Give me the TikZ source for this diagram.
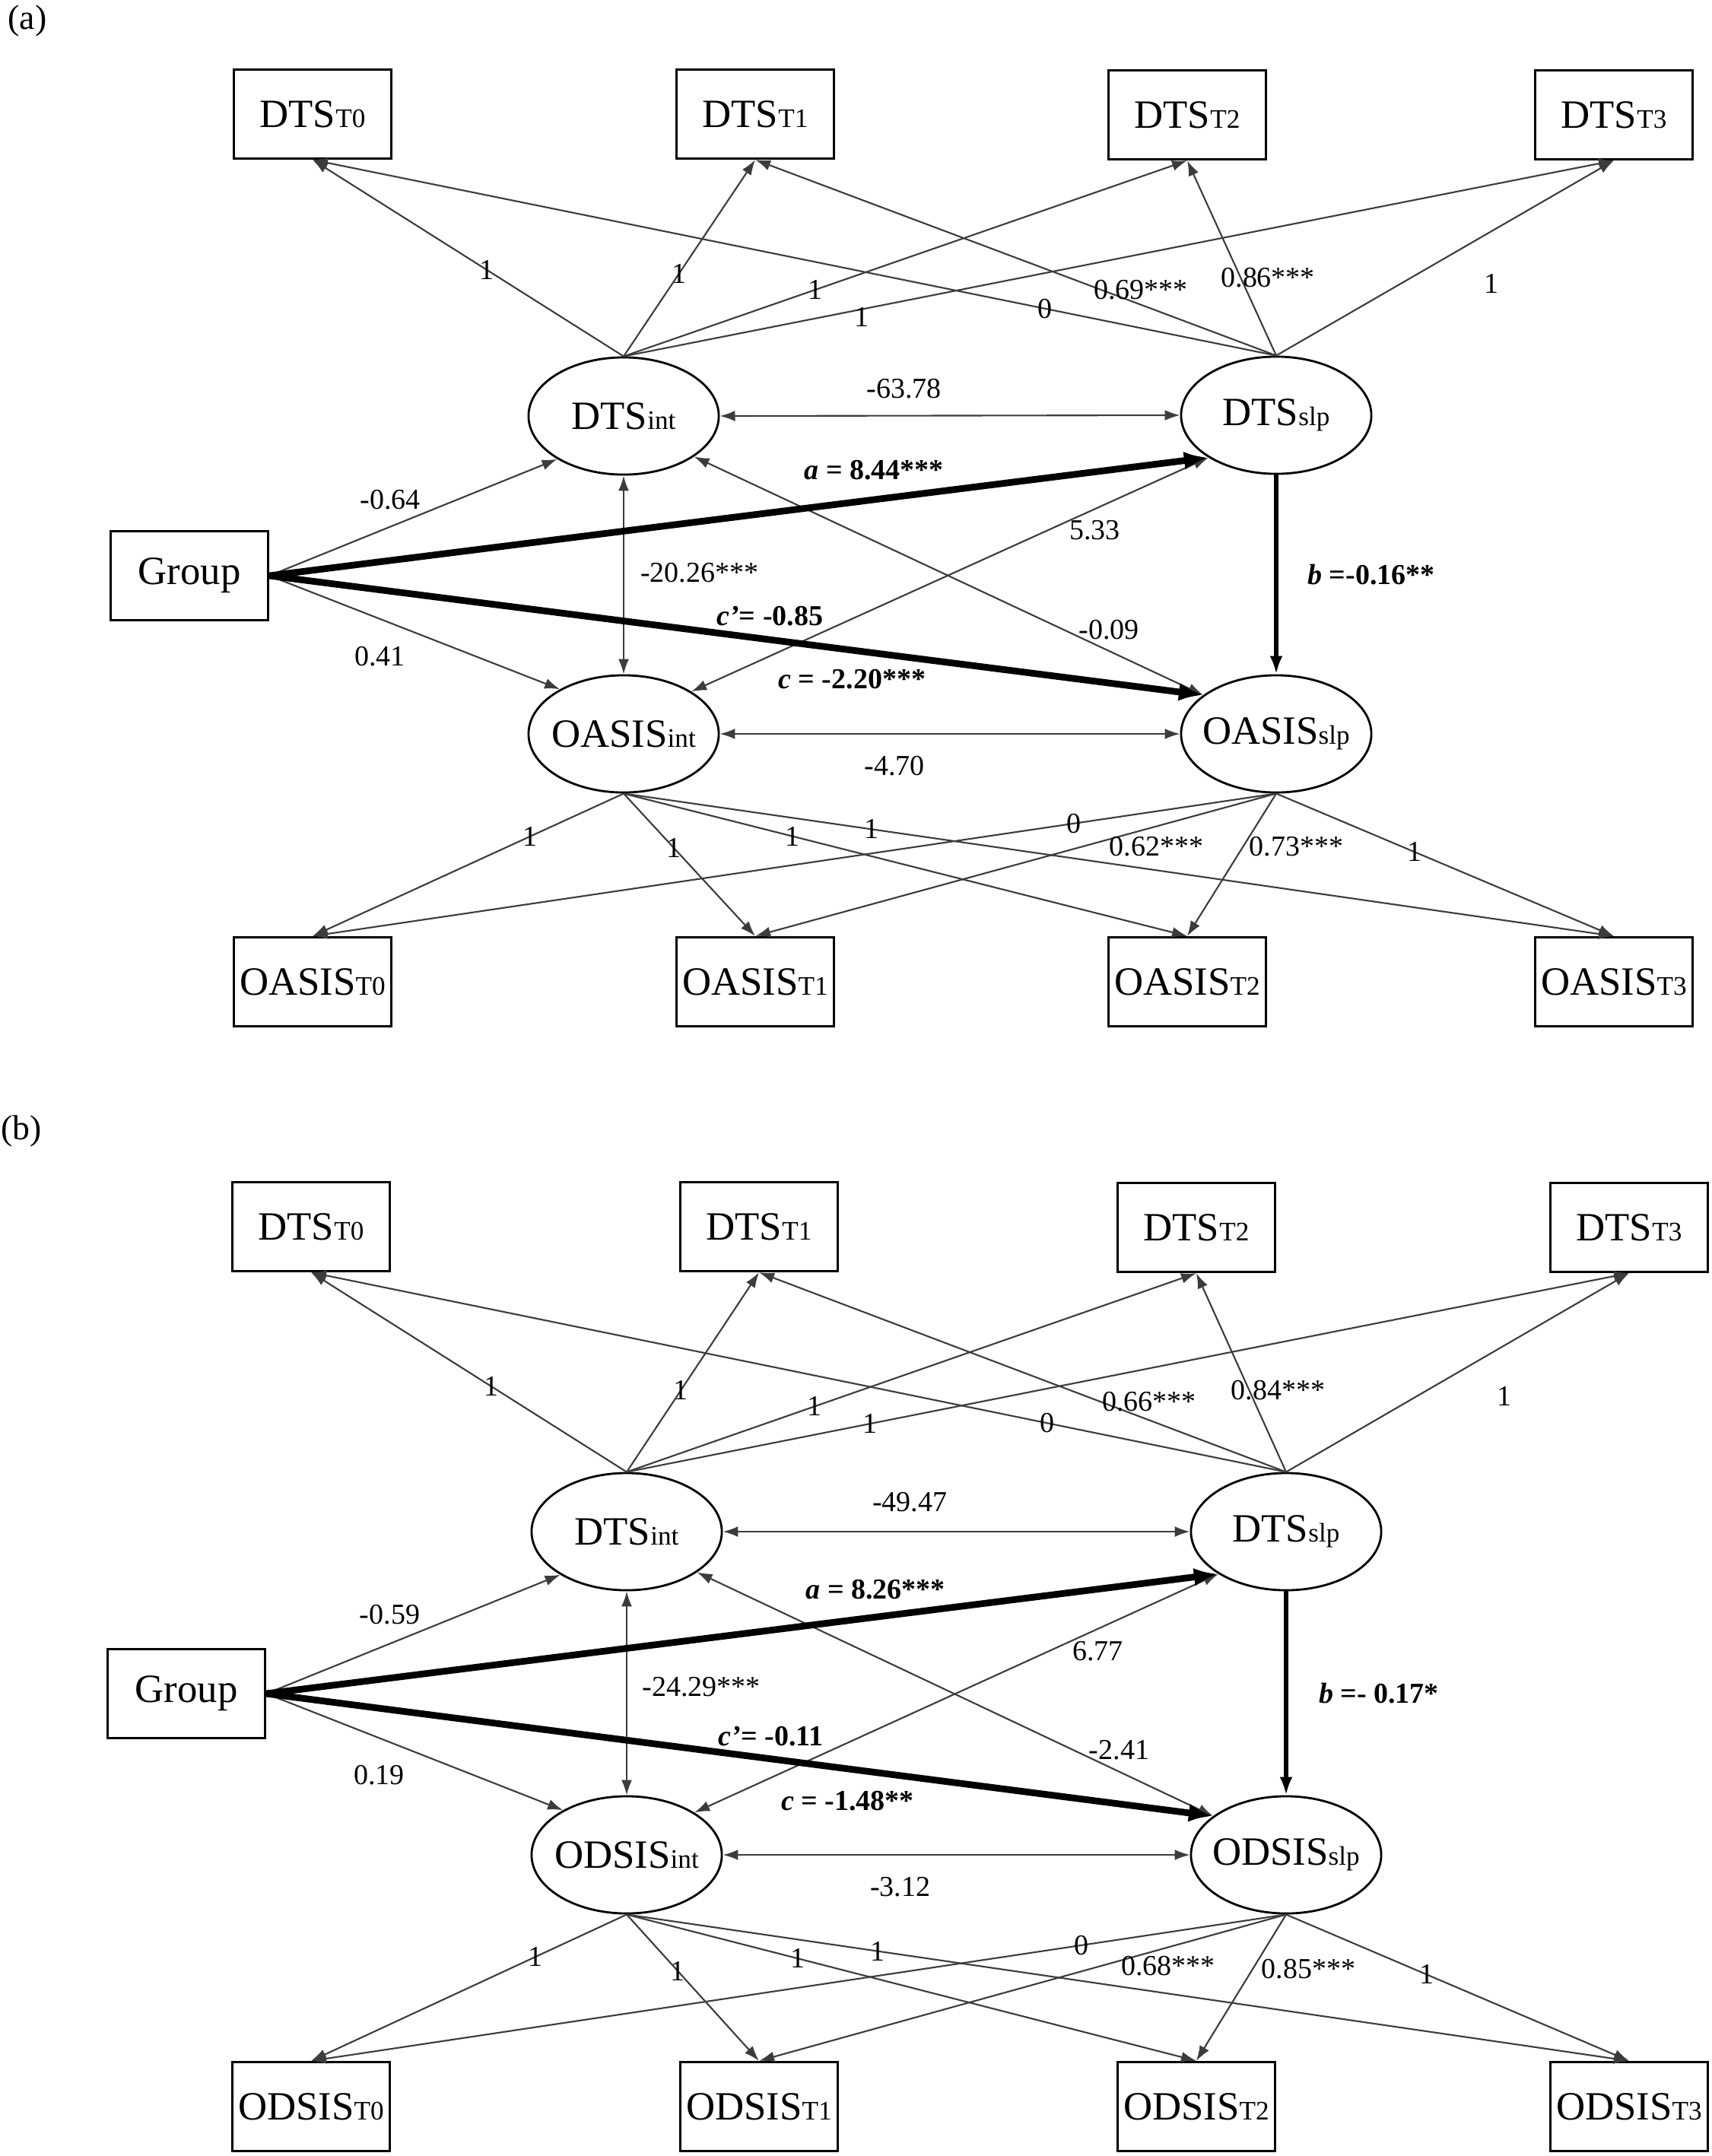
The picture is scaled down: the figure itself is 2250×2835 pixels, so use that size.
\documentclass[tikz,border=0pt]{standalone}
\usepackage{fontspec}
\setmainfont{Liberation Serif}
\usepackage{xcolor}
\usetikzlibrary{shapes.geometric, arrows.meta}
\definecolor{darkline}{HTML}{3C3C3C}
\newcommand{\sm}[1]{{\fontsize{10}{12}\selectfont #1}}

\begin{document}
\begin{tikzpicture}[
    x=0.01cm, y=-0.01cm,
    obs/.style={rectangle, draw, line width=0.9pt, minimum width=2.07cm,
                minimum height=1.17cm, inner sep=0pt, font=\fontsize{15}{18}\selectfont},
    lat/.style={ellipse, draw, line width=0.8pt, minimum width=2.5cm,
                minimum height=1.54cm, inner xsep=-4mm, font=\fontsize{15}{18}\selectfont},
    arrow/.style={-{Latex[length=0.2cm, width=0.14cm]}, line width=0.6pt, color=darkline},
    cov/.style={{Latex[length=0.2cm, width=0.14cm]}-{Latex[length=0.2cm, width=0.14cm]},
                line width=0.6pt, color=darkline},
    mainpath/.style={-{Latex[length=0.32cm, width=0.24cm]}, line width=2.5pt},
    bpath/.style={-{Latex[length=0.24cm, width=0.17cm]}, line width=1.6pt},
    coef/.style={font=\fontsize{10.8}{12}\selectfont, text=black, inner sep=1pt},
    boldcoef/.style={coef, font=\fontsize{10.8}{12}\selectfont\bfseries},
    tag/.style={font=\fontsize{13}{15}\selectfont}
]
\useasboundingbox (0,0) rectangle (2250,2835);

% Panel (a)
\node[tag] (taga) at (36,27) {(a)};

\node[obs] (da0) at (411,150) {DTS\sm{T0}};
\node[obs] (da1) at (993,150) {DTS\sm{T1}};
\node[obs] (da2) at (1561,151) {DTS\sm{T2}};
\node[obs] (da3) at (2122,151) {DTS\sm{T3}};
\node[lat] (dinta) at (820,547) {DTS\sm{int}};
\node[lat] (dslpa) at (1678,546) {DTS\sm{slp}};
\node[obs] (grpa) at (249,757) {Group};
\node[lat] (ointa) at (820,965) {OASIS\sm{int}};
\node[lat] (oslpa) at (1678,965) {OASIS\sm{slp}};
\node[obs] (oa0) at (411,1291) {OASIS\sm{T0}};
\node[obs] (oa1) at (993,1291) {OASIS\sm{T1}};
\node[obs] (oa2) at (1561,1291) {OASIS\sm{T2}};
\node[obs] (oa3) at (2122,1291) {OASIS\sm{T3}};

% Loadings
\draw[arrow] (dinta.north) -- (da0.south) node[coef, pos=0.44] {1};
\draw[arrow] (dinta.north) -- (da1.south) node[coef, pos=0.42] {1};
\draw[arrow] (dinta.north) -- (da2.south) node[coef, pos=0.34] {1};
\draw[arrow] (dinta.north) -- (da3.south) node[coef, pos=0.24, yshift=-3pt] {1};
\draw[arrow] (dslpa.north) -- (da0.south) node[coef, pos=0.24] {0};
\draw[arrow] (dslpa.north) -- (da1.south) node[coef, pos=0.26, above=0.5pt] {0.69***};
\draw[arrow] (dslpa.north) -- (da2.south) node[coef, pos=0.4, xshift=0.36cm] {0.86***};
\draw[arrow] (dslpa.north) -- (da3.south) node[coef, pos=0.37, xshift=1.19cm] {1};
\draw[arrow] (ointa.south) -- (oa0.north) node[coef, pos=0.3] {1};
\draw[arrow] (ointa.south) -- (oa1.north) node[coef, pos=0.38] {1};
\draw[arrow] (ointa.south) -- (oa2.north) node[coef, pos=0.3] {1};
\draw[arrow] (ointa.south) -- (oa3.north) node[coef, pos=0.25] {1};
\draw[arrow] (oslpa.south) -- (oa0.north) node[coef, pos=0.21] {0};
\draw[arrow] (oslpa.south) -- (oa1.north) node[coef, pos=0.23, below=2.5pt] {0.62***};
\draw[arrow] (oslpa.south) -- (oa2.north) node[coef, pos=0.37, right=1pt] {0.73***};
\draw[arrow] (oslpa.south) -- (oa3.north) node[coef, pos=0.41] {1};

% Covariances
\draw[cov] (dinta.east) -- (dslpa.west) node[coef, pos=0.4, above=5pt] {-63.78};
\draw[cov] (dinta.south) -- (ointa.north) node[coef, pos=0.49, right=5pt] {-20.26***};
\draw[cov] (ointa.east) -- (oslpa.west) node[coef, pos=0.38, below=7pt] {-4.70};
\draw[cov] (ointa.32) -- (dslpa.212) node[coef, pos=0.78, below=3pt] {5.33};
\draw[cov] (dinta.330) -- (oslpa.152) node[coef, pos=0.815, above=3pt] {-0.09};

% Group effects
\draw[arrow] (grpa.east) -- (dinta.213) node[coef, pos=0.42, above=5pt] {-0.64};
\draw[arrow] (grpa.east) -- (ointa.145) node[coef, pos=0.38, below=9pt] {0.41};
\draw[mainpath] (grpa.east) -- (dslpa.212)
    node[boldcoef, pos=0.644, above=5pt] {\textit{a} = 8.44***};
\draw[mainpath] (grpa.east) -- (oslpa.152)
    node[boldcoef, pos=0.536, above=3pt] {\textit{c’}= -0.85}
    node[boldcoef, pos=0.624, below=5pt] {\textit{c} = -2.20***};
\draw[bpath] (dslpa.south) -- (oslpa.north)
    node[boldcoef, pos=0.5, right=10pt] {\textit{b} =-0.16**};

% Panel (b)
\node[tag] (tagb) at (28,1487) {(b)};

\node[obs] (db0) at (409,1613) {DTS\sm{T0}};
\node[obs] (db1) at (998,1613) {DTS\sm{T1}};
\node[obs] (db2) at (1573,1614) {DTS\sm{T2}};
\node[obs] (db3) at (2142,1614) {DTS\sm{T3}};
\node[lat] (dintb) at (824,2014) {DTS\sm{int}};
\node[lat] (dslpb) at (1691,2014) {DTS\sm{slp}};
\node[obs] (grpb) at (245,2227) {Group};
\node[lat] (ointb) at (824,2439) {ODSIS\sm{int}};
\node[lat] (oslpb) at (1691,2439) {ODSIS\sm{slp}};
\node[obs] (ob0) at (409,2770) {ODSIS\sm{T0}};
\node[obs] (ob1) at (998,2770) {ODSIS\sm{T1}};
\node[obs] (ob2) at (1573,2770) {ODSIS\sm{T2}};
\node[obs] (ob3) at (2142,2770) {ODSIS\sm{T3}};

% Loadings
\draw[arrow] (dintb.north) -- (db0.south) node[coef, pos=0.43] {1};
\draw[arrow] (dintb.north) -- (db1.south) node[coef, pos=0.41] {1};
\draw[arrow] (dintb.north) -- (db2.south) node[coef, pos=0.33] {1};
\draw[arrow] (dintb.north) -- (db3.south) node[coef, pos=0.243] {1};
\draw[arrow] (dslpb.north) -- (db0.south) node[coef, pos=0.245] {0};
\draw[arrow] (dslpb.north) -- (db1.south) node[coef, pos=0.26, above=2pt] {0.66***};
\draw[arrow] (dslpb.north) -- (db2.south) node[coef, pos=0.41, xshift=0.38cm] {0.84***};
\draw[arrow] (dslpb.north) -- (db3.south) node[coef, pos=0.38, xshift=1.16cm] {1};
\draw[arrow] (ointb.south) -- (ob0.north) node[coef, pos=0.29] {1};
\draw[arrow] (ointb.south) -- (ob1.north) node[coef, pos=0.385] {1};
\draw[arrow] (ointb.south) -- (ob2.north) node[coef, pos=0.3] {1};
\draw[arrow] (ointb.south) -- (ob3.north) node[coef, pos=0.25] {1};
\draw[arrow] (oslpb.south) -- (ob0.north) node[coef, pos=0.21] {0};
\draw[arrow] (oslpb.south) -- (ob1.north) node[coef, pos=0.224, below=2pt] {0.68***};
\draw[arrow] (oslpb.south) -- (ob2.north) node[coef, pos=0.37, right=2pt] {0.85***};
\draw[arrow] (oslpb.south) -- (ob3.north) node[coef, pos=0.41] {1};

% Covariances
\draw[cov] (dintb.east) -- (dslpb.west) node[coef, pos=0.4, above=6pt] {-49.47};
\draw[cov] (dintb.south) -- (ointb.north) node[coef, pos=0.47, right=4.5pt] {-24.29***};
\draw[cov] (ointb.east) -- (oslpb.west) node[coef, pos=0.38, below=7pt] {-3.12};
\draw[cov] (ointb.32) -- (dslpb.212) node[coef, pos=0.77, below=3.5pt] {6.77};
\draw[cov] (dintb.330) -- (oslpb.152) node[coef, pos=0.818, above=3pt] {-2.41};

% Group effects
\draw[arrow] (grpb.east) -- (dintb.213) node[coef, pos=0.42, above=6pt] {-0.59};
\draw[arrow] (grpb.east) -- (ointb.145) node[coef, pos=0.38, below=9pt] {0.19};
\draw[mainpath] (grpb.east) -- (dslpb.212)
    node[boldcoef, pos=0.64, above=4.5pt] {\textit{a} = 8.26***};
\draw[mainpath] (grpb.east) -- (oslpb.152)
    node[boldcoef, pos=0.533, above=2.5pt] {\textit{c’}= -0.11}
    node[boldcoef, pos=0.614, below=6pt] {\textit{c} = -1.48**};
\draw[bpath] (dslpb.south) -- (oslpb.north)
    node[boldcoef, pos=0.5, right=10.5pt] {\textit{b} =- 0.17*};

\end{tikzpicture}
\end{document}
